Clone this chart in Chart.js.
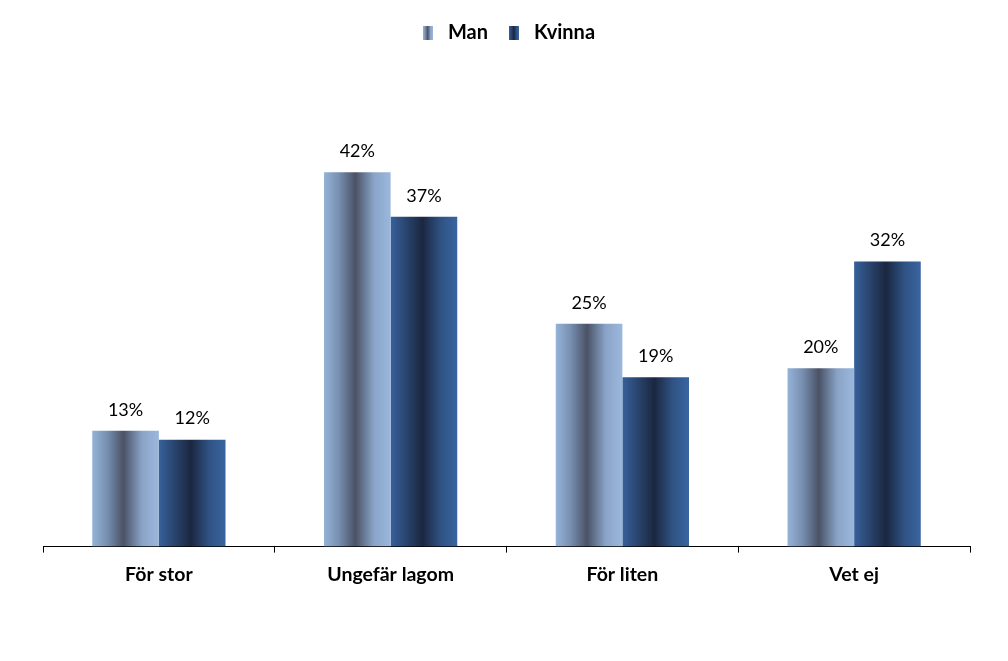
<!DOCTYPE html>
<html><head><meta charset="utf-8">
<script src="https://cdn.jsdelivr.net/npm/chart.js@4"></script>
<style>html,body{margin:0;padding:0;background:#fff}#w{width:1008px;height:661px}</style>
</head><body><div id="w"><canvas id="c" width="1008" height="661"></canvas></div>
<script>
const categories = ["För stor", "Ungefär lagom", "För liten", "Vet ej"];
const seriesNames = ["Man", "Kvinna"];
const manValues = [13, 42, 25, 20];
const kvinnaValues = [12, 37, 19, 32];

const gradStops = [
  [[0,'#95b3d7'],[0.22,'#7890b2'],[0.47,'#4a5266'],[0.75,'#8aa4c8'],[1,'#9bb8dc']],
  [[0,'#37619b'],[0.22,'#2a4670'],[0.48,'#1b2740'],[0.75,'#2f5283'],[1,'#3a65a1']]
];
function makeIcon(i){
  const cv=document.createElement('canvas'); cv.width=10; cv.height=14;
  const g=cv.getContext('2d'); const lg=g.createLinearGradient(0,0,10,0);
  gradStops[i].forEach(s=>lg.addColorStop(s[0],s[1]));
  g.fillStyle=lg; g.fillRect(0,0,10,14); return cv;
}
const gradPlugin={id:'grad',beforeDatasetsDraw(chart){
  const ctx=chart.ctx;
  chart.data.datasets.forEach((ds,i)=>{
    chart.getDatasetMeta(i).data.forEach(el=>{
      const l=el.x-el.width/2, r=el.x+el.width/2;
      const lg=ctx.createLinearGradient(l,0,r,0);
      gradStops[i].forEach(s=>lg.addColorStop(s[0],s[1]));
      el.options=Object.assign({},el.options,{backgroundColor:lg});
    });
  });
}};
const labelPlugin={id:'lbl',afterDatasetsDraw(chart){
  const ctx=chart.ctx; ctx.save();
  ctx.font='18px Lato, "Open Sans", sans-serif'; ctx.fillStyle='#000';
  ctx.textAlign='center'; ctx.textBaseline='middle';
  chart.data.datasets.forEach((ds,i)=>{
    chart.getDatasetMeta(i).data.forEach((el,j)=>{
      ctx.fillText(ds.data[j]+'%', el.x, el.y-21);
    });
  });
  ctx.restore();
}};
new Chart(document.getElementById('c'),{
  type:'bar',
  data:{labels:categories,datasets:[
    {label:seriesNames[0],data:manValues,pointStyle:makeIcon(0),backgroundColor:()=>'#95b3d7'},
    {label:seriesNames[1],data:kvinnaValues,pointStyle:makeIcon(1),backgroundColor:()=>'#37619b'}
  ]},
  options:{
    responsive:false,animation:false,
    layout:{padding:{left:43,right:38,top:7,bottom:65}},
    datasets:{bar:{categoryPercentage:0.575,barPercentage:1}},
    plugins:{
      legend:{position:'top',labels:{usePointStyle:true,color:'#000',padding:16,
        font:{size:20,weight:'bold',family:'Lato, "Open Sans", sans-serif'}}},
      tooltip:{enabled:false}
    },
    scales:{
      y:{display:false,min:0,max:50},
      x:{border:{display:true,color:'#000',width:1},
        grid:{display:true,drawOnChartArea:false,drawTicks:true,tickLength:6,color:'#000',offset:true},
        ticks:{color:'#000',padding:10,font:{size:19.5,weight:'bold',family:'Lato, "Open Sans", sans-serif'}}}
    }
  },
  plugins:[gradPlugin,labelPlugin,{id:'legPad',beforeInit(chart){
    const fit=chart.legend.fit; chart.legend.fit=function(){fit.bind(chart.legend)();this.height+=48;};
  }}]
});
</script></body></html>
